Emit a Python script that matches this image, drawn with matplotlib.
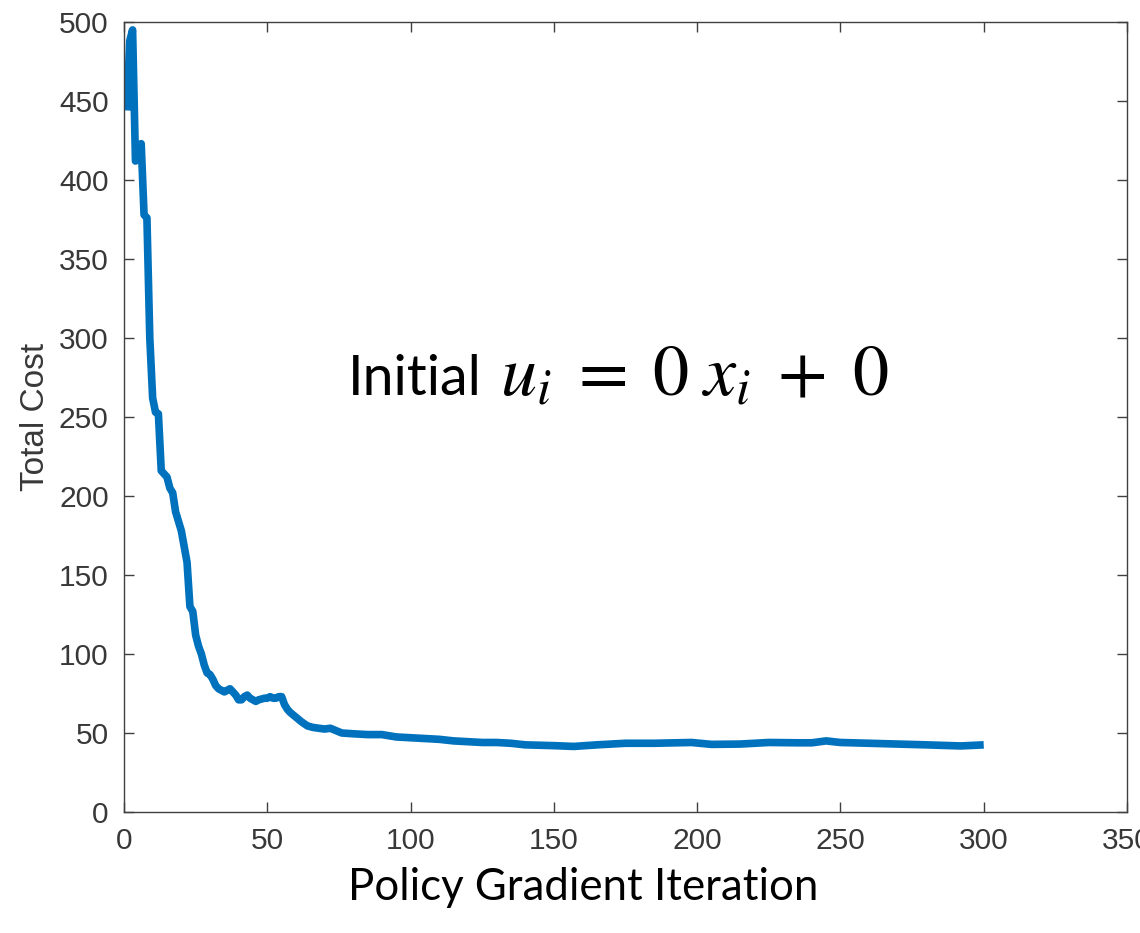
import numpy as np
import matplotlib.pyplot as plt

# values
iters = [1, 2, 3, 4, 5, 6, 7, 8, 9, 10, 11, 12, 13, 14, 15, 16, 17, 18, 19, 20,
         21, 22, 23, 24, 25, 26, 27, 28, 29, 30, 31, 32, 33, 34, 35, 36, 37, 38, 39, 40,
         41, 42, 43, 44, 45, 46, 47, 48, 49, 50, 51, 52, 53, 54, 55, 56, 57, 58, 60, 62,
         64, 66, 68, 70, 72, 74, 76, 80, 85, 90, 95, 100, 105, 110, 115, 120, 125, 130, 135, 140,
         150, 157, 165, 175, 185, 198, 205, 215, 225, 235, 240, 245, 250, 260, 270, 280, 292, 300]
cost = [444, 488, 495, 412, 415, 423, 378, 376, 300, 262, 253, 252, 216, 214, 212, 205, 202, 190, 184, 178,
        168, 158, 130, 127, 112, 105, 100, 93, 88, 87, 84, 80, 78, 77, 76, 77, 78, 76, 74, 71,
        71, 73, 74, 72, 71, 70, 71, 71.5, 72, 72, 73, 72, 72, 73, 73, 68, 65, 63, 60, 57,
        54.5, 53.5, 53, 52.5, 53, 51.5, 50, 49.5, 49, 49, 47.5, 47, 46.5, 46, 45, 44.5, 44, 44, 43.5, 42.5,
        42, 41.5, 42.5, 43.5, 43.5, 44, 42.8, 43, 44, 43.8, 43.8, 45, 44, 43.5, 43, 42.5, 41.8, 42.5]

xticks = [0, 50, 100, 150, 200, 250, 300, 350]
yticks = [0, 50, 100, 150, 200, 250, 300, 350, 400, 450, 500]

plt.rcParams['font.family'] = ['Liberation Sans', 'DejaVu Sans']
plt.rcParams['mathtext.fontset'] = 'stix'

fig = plt.figure(figsize=(11.4, 9.33), dpi=100)
ax = fig.add_axes([124 / 1140, 1 - 812 / 933, (1127 - 124) / 1140, (812 - 22) / 933])

ax.plot(iters, cost, color='#0072BD', lw=5.5, solid_joinstyle='round', solid_capstyle='butt')

ax.set_xlim(0, 350)
ax.set_ylim(0, 500)
ax.set_xticks(xticks)
ax.set_yticks(yticks)
ax.tick_params(direction='in', length=7, width=1, top=True, right=True,
               labelsize=21.5, labelcolor='#383838', color='#404040', pad=11)
for s in ax.spines.values():
    s.set_color('#404040')
    s.set_linewidth(1)

ax.set_ylabel('Total Cost', fontsize=24, color='#383838', labelpad=6)

fig.text(348 / 1140, 1 - 395 / 933, 'Initial', fontsize=40, family='Lato',
         va='baseline', ha='left', color='black')
fig.text(500 / 1140, 1 - 395 / 933, r'$u_i\;=\;0\;x_i\;+\;0$', fontsize=52,
         va='baseline', ha='left', color='black')
fig.text(583 / 1140, 1 - 900 / 933, 'Policy Gradient Iteration',
         fontsize=31.5, family='Lato', va='baseline', ha='center', color='black')

fig.savefig('out.png', dpi=100)
